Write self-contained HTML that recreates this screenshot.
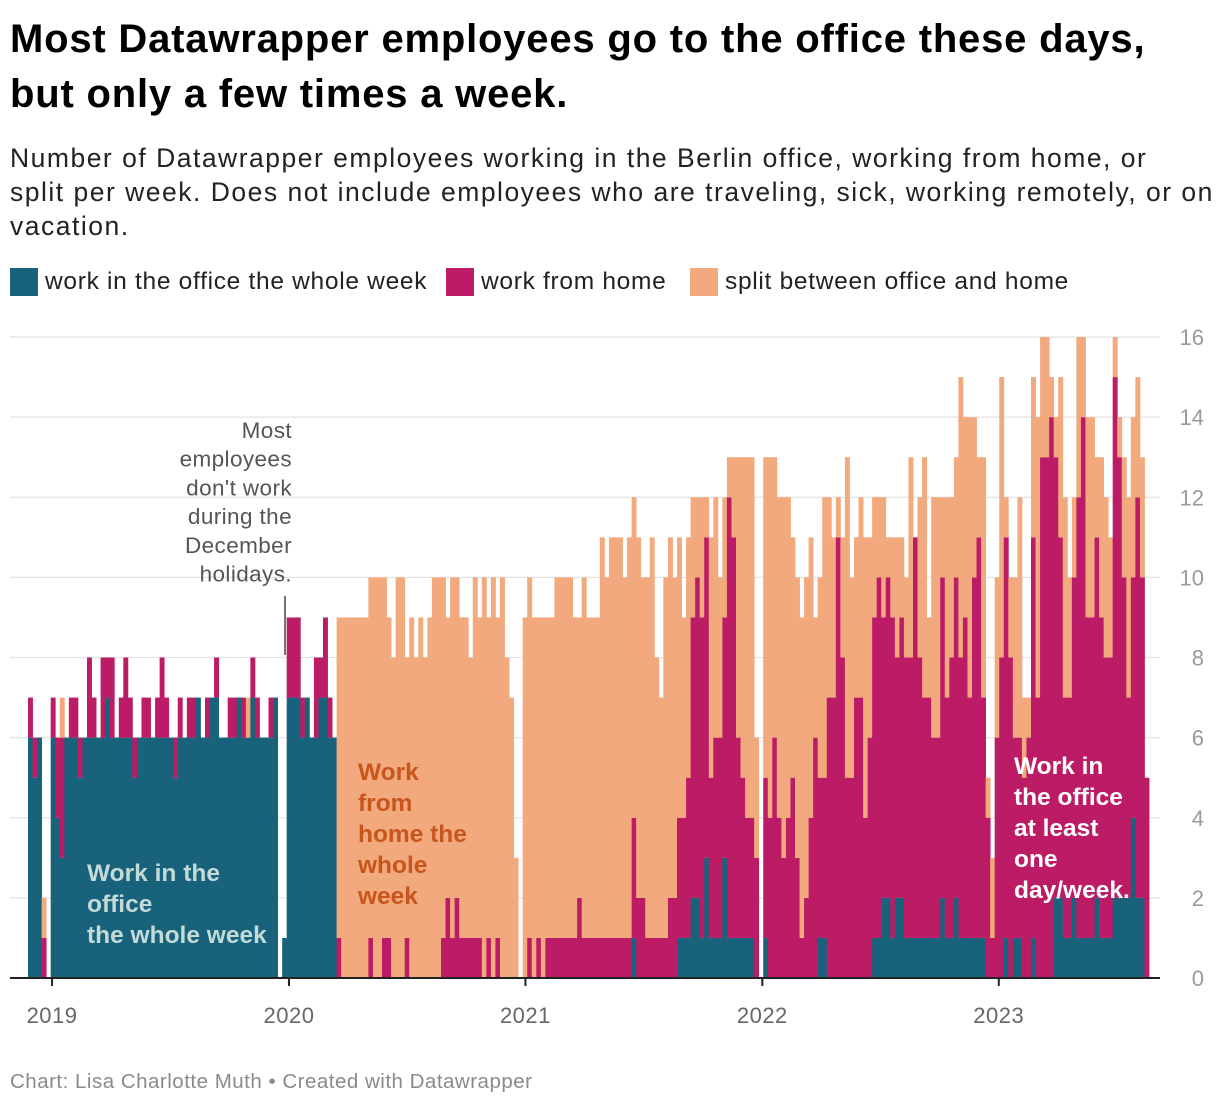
<!DOCTYPE html>
<html><head><meta charset="utf-8"><style>
body{margin:0;background:#fff;width:1220px;height:1106px;overflow:hidden;font-family:"Liberation Sans",Arial,sans-serif;}
#title{position:absolute;left:10px;top:12px;font-size:40px;letter-spacing:0.8px;font-weight:bold;line-height:55px;color:#000;margin:0;white-space:nowrap;}
#sub{position:absolute;left:10px;top:141px;font-size:26.5px;letter-spacing:1.5px;line-height:34px;color:#222;white-space:nowrap;}
.leg{position:absolute;top:268px;font-size:24.5px;letter-spacing:0.7px;color:#222;display:flex;align-items:center;white-space:nowrap;}
.sw{width:28px;height:28px;display:inline-block;margin-right:7px;}
#foot{position:absolute;left:10px;top:1070px;font-size:20.5px;letter-spacing:0.5px;color:#8a8a8a;white-space:nowrap;}
svg{position:absolute;left:0;top:0;}
</style></head><body>
<h1 id="title">Most Datawrapper employees go to the office these days,<br>but only a few times a week.</h1>
<div id="sub">Number of Datawrapper employees working in the Berlin office, working from home, or<br>split per week. Does not include employees who are traveling, sick, working remotely, or on<br>vacation.</div>
<div class="leg" style="left:10px"><span class="sw" style="background:#18627b"></span>work in the office the whole week</div>
<div class="leg" style="left:446px"><span class="sw" style="background:#bc1b65"></span>work from home</div>
<div class="leg" style="left:690px"><span class="sw" style="background:#f2a97d"></span>split between office and home</div>
<svg id="chart" width="1220" height="1106"></svg>
<div id="foot">Chart: Lisa Charlotte Muth • Created with Datawrapper</div>
<script>
// weekly values, starting late Nov 2018
const office = [
6,5,6,0,0,6,4,3,6,6, 6,5,6,6,6,6,6,7,6,6, 6,6,6,5,6,6,6,6,6,6, 6,6,5,6,6,6,6,7,6,6, 7,7,6,6,6,6,7,6,6,7, 6,6,6,6,7,0,
1,7,7,7,6,7,6,6,7,7,6,6,
0,0,0,0,0,0,0,0,0,0, 0,0,0,0,0,0,0,0,0,0, 0,0,0,0,0,0,0,0,0,0, 0,0,0,0,0,0,0,0,0,0, 0,
0,0,0,0,0,0,0,0,0,0, 0,0,0,0,0,0,0,0,0,0, 0,0,0,0,1,0,
0,0,0,0,0,0,0,0,1,1, 1,2,2,1,3,1,1,1,3,1, 1,1,1,1,1,0,0,
1,0,0,0,0,0,0,0,0,0, 0,0,1,1,0,0,0,0,0,0, 0,0,0,0,1,1,2,2,1,2,
2,1,1,1,1,1,1,1,1,2, 1,1,2,1,1,1,1,1,1,0, 0,0,0,1,0,1,1,0,0,1, 0,0,0,0,2,2,1,1,2,1, 1,1,1,2,1,1,1,2,2,2, 2,4,2,2,0];
const home = [
1,1,0,1,0,1,2,3,0,1, 1,1,0,2,1,0,2,1,2,0, 1,2,1,1,0,1,1,0,1,2, 1,0,1,1,0,1,1,0,0,1, 0,1,0,0,1,1,0,1,0,1, 1,0,0,1,0,0,
0,2,2,2,1,0,0,2,1,2,1,0,
1,0,0,0,0,0,0,1,0,0, 1,1,0,0,0,1,0,0,0,0, 0,0,0,1,2,1,2,1,1,1, 1,1,0,1,0,1,0,0,0,0, 0,
0,1,0,1,0,1,1,1,1,1, 1,1,2,1,1,1,1,1,1,1, 1,1,1,1,3,2,
2,1,1,1,1,1,2,2,3,3, 4,7,8,8,8,4,5,5,6,11, 10,5,4,3,3,3,0,
4,4,6,4,3,4,5,3,1,2, 4,6,4,4,7,7,11,8,5,5, 7,7,4,6,8,9,7,8,8,6,
7,7,7,10,7,6,6,5,5,8, 6,7,8,7,8,6,9,10,6,4, 1,6,8,10,8,5,5,5,6,10, 7,13,13,14,11,9,6,6,8,11, 13,8,8,9,8,7,7,13,11,8, 5,6,10,8,5];
const split = [
0,0,0,1,0,0,0,1,0,0, 0,0,0,0,0,0,0,0,0,0, 0,0,0,0,0,0,0,0,0,0, 0,0,0,0,0,0,0,0,0,0, 0,0,0,0,0,0,0,0,1,0, 0,0,0,0,0,0,
0,0,0,0,0,0,0,0,0,0,0,0,
8,9,9,9,9,9,9,9,10,10, 9,8,8,10,10,7,9,8,9,8, 9,10,10,9,7,9,8,8,8,7, 9,8,10,8,10,8,10,8,7,3, 0,
9,9,9,8,9,8,8,9,9,9, 9,8,7,9,8,8,8,10,9,10, 10,10,9,10,8,9,
8,9,10,7,6,9,9,8,7,5, 6,3,2,3,1,6,6,4,3,1, 2,7,8,9,9,3,0,
8,9,7,8,9,8,6,7,8,8, 7,3,5,7,5,4,1,3,8,5, 4,5,7,5,3,2,3,1,2,3,
2,2,5,0,4,6,2,6,6,2, 5,4,3,7,5,7,4,2,6,1, 2,4,7,1,2,4,6,2,1,4, 7,3,3,1,1,4,5,3,2,4, 2,5,5,2,4,4,3,1,1,3, 5,4,3,3,0];
const yTicks = [0,2,4,6,8,10,12,14,16];
const yearLabels = ["2019","2020","2021","2022","2023"];
const yearWeek = [5.3, 57.5, 109.6, 161.8, 213.9]; // week index of Jan 1 each year

const NS="http://www.w3.org/2000/svg";
const svg=document.getElementById('chart');
const X0=28, X1=1149, N=office.length, BW=(X1-X0)/N;
function xs(i){return X0+i*BW;}
function ys(v){return 978-v*40.06;}
function mk(tag,attrs,parent){const e=document.createElementNS(NS,tag);for(const k in attrs)e.setAttribute(k,attrs[k]);(parent||svg).appendChild(e);return e;}

yTicks.forEach(t=>{
  const g=mk('line',{x1:10,x2:1160,y1:ys(t),y2:ys(t),stroke:'#e3e3e3','stroke-width':1.3});
  
  
  const l=mk('text',{x:1204,y:ys(t)+8,'text-anchor':'end','font-size':22,fill:'#9a9a9a'});
  l.textContent=t;
  
  
});
const series=[[office,'#18627b','bar-office'],[home,'#bc1b65','bar-home'],[split,'#f2a97d','bar-split']];
for(let i=0;i<N;i++){
  let base=0;
  series.forEach(([arr,col,nm])=>{
    const v=arr[i];
    if(v>0){
      const r=mk('rect',{x:xs(i),y:ys(base+v),width:BW+0.4,height:v*40.06,fill:col});
      
      
    }
    base+=v;
  });
}
const ax=mk('line',{x1:10,x2:1160,y1:978,y2:978,stroke:'#222','stroke-width':2});


yearLabels.forEach((lab,k)=>{
  const x=xs(yearWeek[k]);
  const t=mk('line',{x1:x,x2:x,y1:978,y2:986,stroke:'#222','stroke-width':2});
  
  
  const l=mk('text',{x:x,y:1023,'text-anchor':'middle','font-size':22,'letter-spacing':0.5,fill:'#666'});
  l.textContent=lab;
  
  
});
function label(lines,x,y,lh,opts,name){
  const t=mk('text',Object.assign({x:x,y:y},opts));
  
  
  lines.forEach((s,k)=>{const sp=mk('tspan',{x:x,dy:k?lh:0},t);sp.textContent=s;});
}
label(["Most","employees","don't work","during the","December","holidays."],292,438,28.7,{'text-anchor':'end','font-size':22.5,'letter-spacing':0.4,fill:'#555'},'holiday-annotation');
const al=mk('line',{x1:285,x2:285,y1:596,y2:655,stroke:'#444','stroke-width':1.5});


label(["Work in the","office","the whole week"],87,881,31,{'font-size':24.5,'font-weight':'bold',fill:'#c3dbd8'},'office-annotation');
label(["Work","from","home the","whole","week"],358,780,31,{'font-size':24.5,'font-weight':'bold',fill:'#c8561c'},'home-annotation');
label(["Work in","the office","at least","one","day/week."],1014,774,31,{'font-size':24.5,'font-weight':'bold',fill:'#ffffff'},'split-annotation');
</script>
</body></html>
